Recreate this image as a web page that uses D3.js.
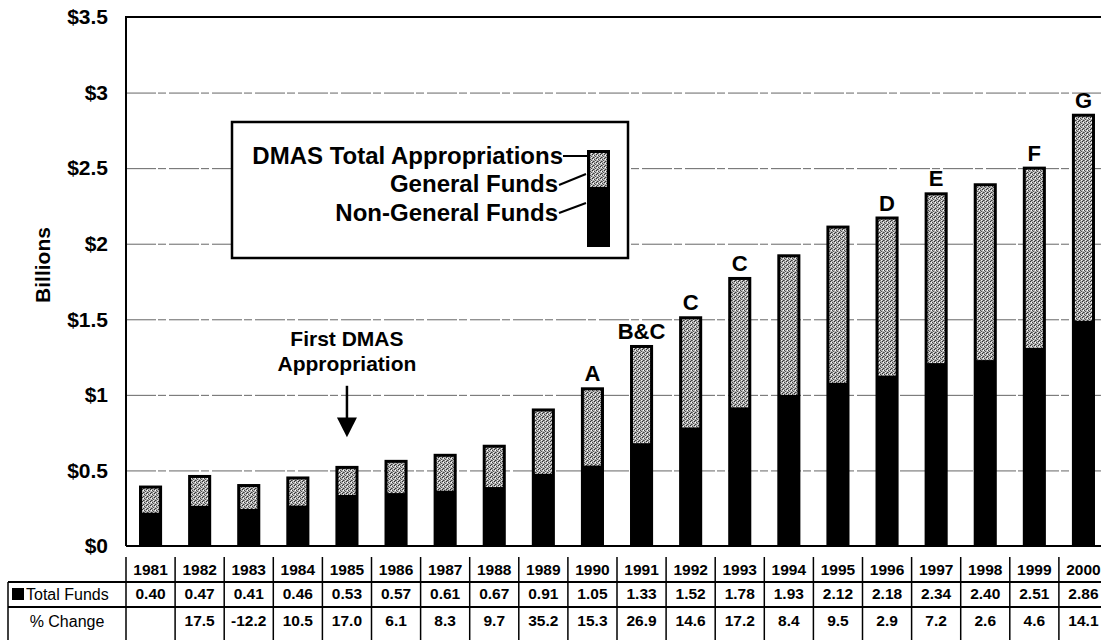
<!DOCTYPE html>
<html>
<head>
<meta charset="utf-8">
<script src="https://cdn.jsdelivr.net/npm/d3@7"></script>
<style>
  body { margin: 0; background: #fff; }
  svg { font-family: "Liberation Sans", Arial, sans-serif; }
</style>
</head>
<body>
<div id="chart"></div>
<script>
// DMAS appropriations, 1981-2000 (billions)
const years = ["1981", "1982", "1983", "1984", "1985", "1986", "1987", "1988", "1989", "1990",
  "1991", "1992", "1993", "1994", "1995", "1996", "1997", "1998", "1999", "2000"];
const totalFunds = [0.40, 0.47, 0.41, 0.46, 0.53, 0.57, 0.61, 0.67, 0.91, 1.05,
  1.33, 1.52, 1.78, 1.93, 2.12, 2.18, 2.34, 2.40, 2.51, 2.86];
// black lower part of each bar
const nonGeneralFunds = [0.22, 0.265, 0.245, 0.267, 0.338, 0.35, 0.366, 0.39, 0.477, 0.532,
  0.68, 0.784, 0.917, 1.0, 1.08, 1.127, 1.21, 1.23, 1.31, 1.49];
const pctChange = ["", "17.5", "-12.2", "10.5", "17.0", "6.1", "8.3", "9.7", "35.2", "15.3",
  "26.9", "14.6", "17.2", "8.4", "9.5", "2.9", "7.2", "2.6", "4.6", "14.1"];
const noteYears = ["1990", "1991", "1992", "1993", "1996", "1997", "1999", "2000"];
const noteLabels = ["A", "B&C", "C", "C", "D", "E", "F", "G"];
const yTicks = [0, 0.5, 1, 1.5, 2, 2.5, 3, 3.5];
const yTickLabels = ["$0", "$0.5", "$1", "$1.5", "$2", "$2.5", "$3", "$3.5"];
const legendLabels = ["DMAS Total Appropriations", "General Funds", "Non-General Funds"];

const data = years.map((yr, i) => ({
  year: yr,
  total: totalFunds[i],
  nonGeneral: nonGeneralFunds[i],
  pct: pctChange[i],
}));

const W = 1101, H = 640;
const margin = { top: 17, left: 126 };
const width = 982;   // runs past the right edge, as in the scan
const height = 529;

const svg = d3.select("#chart").append("svg")
  .attr("width", W).attr("height", H);

// stipple fill for the general-funds part
const defs = svg.append("defs");
const pat = defs.append("pattern").attr("id", "stip")
  .attr("width", 4).attr("height", 4).attr("patternUnits", "userSpaceOnUse");
pat.append("rect").attr("width", 4).attr("height", 4).attr("fill", "#b4b4b4");
[[0, 0, "#2a2a2a"], [2, 1, "#444"], [1, 3, "#3a3a3a"], [3, 2, "#555"], [1, 1, "#fff"], [3, 3, "#eee"], [2, 3, "#777"]]
  .forEach(([px, py, c]) => pat.append("rect").attr("x", px).attr("y", py)
    .attr("width", 1).attr("height", 1).attr("fill", c));

const g = svg.append("g").attr("transform", `translate(${margin.left},${margin.top})`);

const x = d3.scaleBand().domain(years).range([0, width])
  .paddingInner(0.53).paddingOuter(0.265);
const y = d3.scaleLinear().domain([0, 3.5]).range([height, 0]);

// gridlines
g.append("g")
  .attr("class", "grid")
  .call(d3.axisLeft(y).tickValues(yTicks.slice(1, -1)).tickSize(-width).tickFormat(""))
  .call((s) => s.select(".domain").remove())
  .selectAll("line")
  .attr("stroke", "#666")
  .attr("stroke-width", 1)
  .attr("stroke-dasharray", "30,2,8,3");

// y tick labels
g.append("g")
  .attr("class", "y-axis")
  .call(d3.axisLeft(y).tickValues(yTicks).tickSize(0).tickPadding(18)
    .tickFormat((d, i) => yTickLabels[i]))
  .call((s) => s.select(".domain").remove())
  .selectAll("text")
  .attr("font-size", 21)
  .attr("font-weight", "bold")
  .attr("font-family", "Liberation Sans, Arial, sans-serif")
  .attr("fill", "#000");

// y axis title
svg.append("text")
  .attr("transform", `translate(50,265) rotate(-90)`)
  .attr("text-anchor", "middle")
  .attr("font-size", 21)
  .attr("font-weight", "bold")
  .text("Billions");

// bars: black full height, stippled general-funds part on top
const inset = 3;
const bars = g.selectAll(".bar").data(data).enter().append("g").attr("class", "bar");
bars.append("rect")
  .attr("x", (d) => x(d.year))
  .attr("y", (d) => y(d.total))
  .attr("width", x.bandwidth())
  .attr("height", (d) => height - y(d.total))
  .attr("fill", "#000");
bars.append("rect")
  .attr("x", (d) => x(d.year) + inset)
  .attr("y", (d) => y(d.total) + inset)
  .attr("width", x.bandwidth() - 2 * inset)
  .attr("height", (d) => y(d.nonGeneral) - y(d.total) - inset)
  .attr("fill", "url(#stip)");

// frame
g.append("path")
  .attr("d", `M0,${height}V0H${width}`)
  .attr("fill", "none").attr("stroke", "#000").attr("stroke-width", 2);
g.append("line")
  .attr("x1", 0).attr("x2", width).attr("y1", height).attr("y2", height)
  .attr("stroke", "#000").attr("stroke-width", 2);

// letter notes above bars
g.selectAll(".note").data(noteYears).enter().append("text")
  .attr("class", "note")
  .attr("x", (d) => x(d) + x.bandwidth() / 2)
  .attr("y", (d) => y(totalFunds[years.indexOf(d)]) - 6)
  .attr("text-anchor", "middle")
  .attr("font-size", 22)
  .attr("font-weight", "bold")
  .text((d, i) => noteLabels[i]);

// "First DMAS Appropriation" arrow on 1985
const cx85 = x("1985") + x.bandwidth() / 2;
const firstNote = g.append("g");
firstNote.append("text")
  .attr("x", cx85).attr("y", y(1.32))
  .attr("text-anchor", "middle").attr("font-size", 21).attr("font-weight", "bold")
  .selectAll("tspan").data(["First DMAS", "Appropriation"]).enter().append("tspan")
  .attr("x", cx85).attr("dy", (d, i) => (i ? 25 : 0)).text((d) => d);
firstNote.append("line")
  .attr("x1", cx85).attr("x2", cx85).attr("y1", y(1.06)).attr("y2", y(0.84))
  .attr("stroke", "#000").attr("stroke-width", 2.5);
firstNote.append("path")
  .attr("d", `M${cx85 - 10},${y(0.85)}L${cx85 + 10},${y(0.85)}L${cx85},${y(0.72)}Z`)
  .attr("fill", "#000");

// legend box
const lg = svg.append("g").attr("transform", "translate(232,122)");
lg.append("rect").attr("width", 396).attr("height", 136)
  .attr("fill", "#fff").attr("stroke", "#000").attr("stroke-width", 2.5);
lg.append("rect").attr("x", 355).attr("y", 28).attr("width", 23).attr("height", 97).attr("fill", "#000");
lg.append("rect").attr("x", 358).attr("y", 31).attr("width", 17).attr("height", 34).attr("fill", "url(#stip)");
const legendY = [42, 70, 99];
lg.selectAll(".lt").data(legendLabels).enter().append("text")
  .attr("class", "lt")
  .attr("x", (d, i) => (i ? 326 : 331))
  .attr("y", (d, i) => legendY[i])
  .attr("text-anchor", "end")
  .attr("font-size", 24)
  .attr("font-weight", "bold")
  .text((d) => d);
const leaders = [[331, 34, 355, 34], [327, 63, 354, 52], [327, 91, 354, 81]];
lg.selectAll(".ll").data(leaders).enter().append("line")
  .attr("x1", (d) => d[0]).attr("y1", (d) => d[1])
  .attr("x2", (d) => d[2]).attr("y2", (d) => d[3])
  .attr("stroke", "#000").attr("stroke-width", 2);

// data table under the chart
const rowYear = 570, rowTotal = 594, rowPct = 621;
const lineA = 582, lineB = 607;
const tbl = svg.append("g").attr("class", "table");
const colEdges = years.map((yr) => margin.left + x(yr) - (x.step() - x.bandwidth()) / 2);
colEdges.push(margin.left + width);

tbl.selectAll(".vline").data(colEdges).enter().append("line")
  .attr("x1", (d) => d).attr("x2", (d) => d)
  .attr("y1", 557).attr("y2", H)
  .attr("stroke", "#000").attr("stroke-width", 1.5);
tbl.append("line").attr("x1", 8).attr("x2", 8).attr("y1", lineA).attr("y2", H)
  .attr("stroke", "#000").attr("stroke-width", 1.5);
[lineA, lineB].forEach((ly) => tbl.append("line")
  .attr("x1", 8).attr("x2", W).attr("y1", ly).attr("y2", ly)
  .attr("stroke", "#000").attr("stroke-width", 2));

const cellX = (yr) => margin.left + x(yr) + x.bandwidth() / 2;
const cellText = (rowY, fmt, cls) => tbl.selectAll("." + cls).data(data).enter().append("text")
  .attr("class", cls)
  .attr("x", (d) => cellX(d.year))
  .attr("y", rowY)
  .attr("dy", "0.35em")
  .attr("text-anchor", "middle")
  .attr("font-size", 15.5)
  .attr("font-weight", "bold")
  .text(fmt);
cellText(rowYear, (d) => d.year, "yr");
cellText(rowTotal, (d) => d.total.toFixed(2), "tot");
cellText(rowPct, (d) => d.pct, "pct");

tbl.append("rect").attr("x", 12).attr("y", rowTotal - 6).attr("width", 12).attr("height", 12).attr("fill", "#000");
tbl.append("text").attr("x", 26).attr("y", rowTotal).attr("dy", "0.35em")
  .attr("font-size", 16).text("Total Funds");
tbl.append("text").attr("x", 67).attr("y", rowPct).attr("dy", "0.35em")
  .attr("text-anchor", "middle").attr("font-size", 16).text("% Change");
</script>
</body>
</html>
